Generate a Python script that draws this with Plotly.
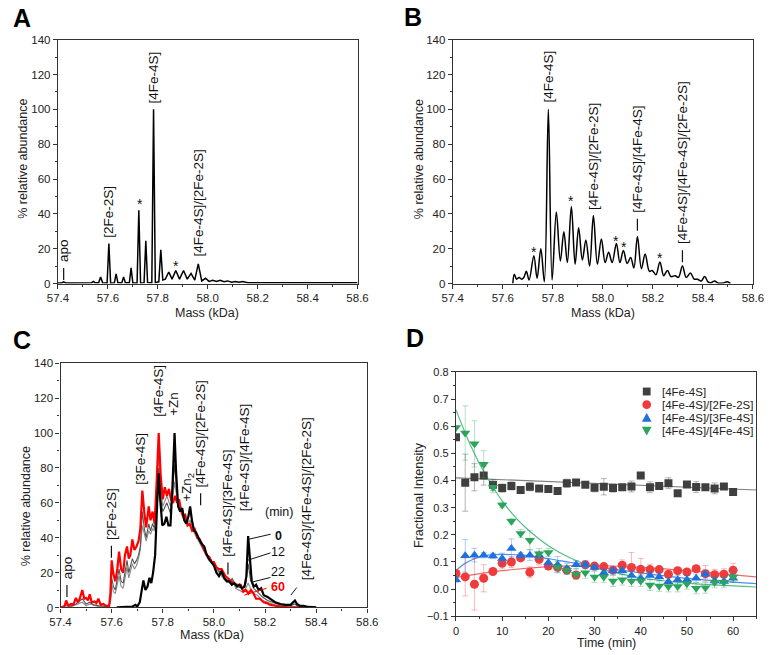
import plotly.graph_objects as go

W, H = 774, 655
FONT = "Liberation Sans, Arial, sans-serif"

# ---------------- Panel A spectrum (vertices) ----------------
a_mass = [57.400, 57.415, 57.423, 57.431, 57.460, 57.490, 57.520, 57.535, 57.542, 57.549,
          57.563, 57.571, 57.579, 57.597, 57.604, 57.611, 57.626, 57.633, 57.640, 57.656,
          57.663, 57.670, 57.686, 57.693, 57.700, 57.717, 57.724, 57.731, 57.745, 57.752,
          57.759, 57.776, 57.783, 57.790, 57.804, 57.812, 57.820, 57.830, 57.844, 57.857,
          57.872, 57.887, 57.903, 57.918, 57.933, 57.948, 57.962, 57.976, 57.991, 58.005,
          58.020, 58.035, 58.050, 58.065, 58.080, 58.095, 58.110, 58.125, 58.140, 58.160,
          58.200, 58.300, 58.400, 58.600]
a_abund = [0.3, 0.3, 1.0, 0.3, 0.3, 0.5, 0.3, 0.5, 1.2, 0.4,
           0.4, 3.8, 0.4, 0.3, 23.0, 0.3, 0.4, 5.6, 0.5, 0.4,
           3.8, 0.4, 0.4, 9.0, 0.3, 0.3, 42.0, 0.3, 0.5, 24.6,
           0.5, 0.4, 100.0, 0.5, 1.0, 19.4, 2.0, 2.5, 6.6, 2.5,
           7.5, 2.5, 7.5, 2.5, 5.8, 2.0, 11.3, 1.5, 3.0, 1.2,
           1.8, 1.2, 1.8, 1.0, 1.5, 0.8, 1.2, 0.7, 1.2, 0.5,
           0.5, 0.4, 0.4, 0.4]

# ---------------- Panel B spectrum ----------------
b_mass = [57.640, 57.646, 57.655, 57.665, 57.675, 57.684, 57.694, 57.705, 57.724, 57.737,
          57.752, 57.766, 57.782, 57.797, 57.814, 57.830, 57.844, 57.858, 57.874, 57.889,
          57.903, 57.918, 57.932, 57.947, 57.962, 57.978, 57.994, 58.009, 58.023, 58.037,
          58.054, 58.068, 58.082, 58.097, 58.111, 58.124, 58.138, 58.154, 58.169, 58.186,
          58.197, 58.212, 58.228, 58.243, 58.258, 58.272, 58.289, 58.302, 58.318, 58.333,
          58.350, 58.365, 58.378, 58.393, 58.407, 58.420, 58.432, 58.446, 58.460, 58.480,
          58.497, 58.510]
b_abund = [0.0, 5.3, 2.5, 3.5, 2.5, 3.5, 7.0, 2.0, 16.0, 3.0,
           20.0, 1.0, 100.0, 2.0, 41.0, 13.0, 29.7, 12.0, 44.2, 11.0,
           32.0, 13.5, 25.0, 10.0, 39.0, 11.0, 25.6, 12.0, 18.0, 12.0,
           23.0, 12.0, 19.0, 11.5, 15.0, 9.0, 27.0, 8.5, 17.0, 7.0,
           7.5, 5.0, 12.4, 4.5, 7.5, 4.0, 4.5, 3.5, 10.0, 3.5,
           6.0, 2.5, 2.5, 1.5, 4.0, 1.0, 0.5, 1.5, 0.3, 0.3,
           1.0, 0.0]

# ---------------- Panel C spectra (0, 12, 22, 60 min) ----------------
c60_mass = [57.400, 57.415, 57.422, 57.430, 57.441, 57.450, 57.460, 57.468, 57.474, 57.485,
            57.493, 57.500, 57.507, 57.514, 57.522, 57.533, 57.540, 57.548, 57.557, 57.567,
            57.577, 57.590, 57.595, 57.600, 57.607, 57.614, 57.622, 57.629, 57.637, 57.645,
            57.652, 57.660, 57.667, 57.673, 57.681, 57.689, 57.697, 57.705, 57.712, 57.720,
            57.728, 57.735, 57.745, 57.752, 57.760, 57.768, 57.776, 57.784, 57.792, 57.800,
            57.808, 57.816, 57.824, 57.832, 57.840, 57.848, 57.856, 57.864, 57.872, 57.880,
            57.888, 57.897, 57.905, 57.915, 57.925, 57.935, 57.945, 57.955, 57.962, 57.972,
            57.982, 57.992, 58.000, 58.010, 58.020, 58.030, 58.045, 58.060, 58.075, 58.090,
            58.105, 58.115, 58.125, 58.135, 58.145, 58.155, 58.165, 58.180, 58.195, 58.207,
            58.220, 58.240, 58.260, 58.300, 58.400]
c60_abund = [0.0, 0.5, 4.0, 1.0, 2.0, 1.5, 5.5, 3.0, 4.5, 10.0,
             5.0, 5.5, 4.0, 7.5, 3.0, 3.5, 2.5, 5.0, 1.5, 2.0,
             1.0, 1.0, 8.0, 27.0, 19.0, 15.0, 22.0, 32.0, 22.0, 20.0,
             30.0, 35.0, 28.0, 30.0, 39.0, 33.0, 35.0, 38.0, 45.0, 67.0,
             54.0, 46.0, 58.0, 50.0, 55.0, 48.0, 72.0, 100.0, 75.0, 62.0,
             69.0, 64.0, 68.0, 62.0, 60.0, 64.0, 60.0, 62.0, 55.0, 52.0,
             53.0, 47.0, 48.0, 44.0, 45.0, 40.0, 39.0, 35.0, 33.0, 30.0,
             29.0, 26.0, 26.0, 23.0, 22.0, 22.0, 18.0, 16.0, 14.0, 13.0,
             13.0, 9.0, 10.0, 8.0, 10.0, 8.0, 5.0, 5.0, 3.0, 2.5,
             1.5, 1.0, 0.5, 0.0, 0.0]

c0_mass = [57.620, 57.660, 57.680, 57.693, 57.700, 57.710, 57.718, 57.724, 57.732, 57.740,
           57.748, 57.755, 57.762, 57.770, 57.778, 57.784, 57.790, 57.798, 57.806, 57.814,
           57.822, 57.830, 57.838, 57.846, 57.852, 57.860, 57.868, 57.876, 57.884, 57.892,
           57.900, 57.907, 57.914, 57.922, 57.930, 57.938, 57.946, 57.955, 57.962, 57.970,
           57.980, 57.990, 58.000, 58.010, 58.020, 58.030, 58.040, 58.050, 58.060, 58.070,
           58.080, 58.090, 58.100, 58.110, 58.120, 58.127, 58.134, 58.141, 58.148, 58.156,
           58.165, 58.175, 58.185, 58.195, 58.210, 58.225, 58.240, 58.260, 58.280, 58.300,
           58.310, 58.317, 58.325, 58.335, 58.350, 58.370, 58.400]
c0_abund = [0.0, 0.5, 0.5, 1.5, 0.5, 3.0, 12.0, 15.5, 10.0, 12.0,
            17.0, 14.0, 20.0, 30.0, 60.0, 77.0, 62.0, 47.0, 48.0, 52.0,
            47.0, 47.0, 70.0, 100.0, 78.0, 58.0, 55.0, 57.0, 50.0, 48.0,
            52.0, 58.0, 50.0, 44.0, 43.0, 40.0, 38.0, 36.0, 35.0, 31.0,
            28.0, 26.0, 24.0, 20.0, 18.0, 21.0, 17.0, 15.0, 15.0, 13.0,
            14.0, 12.0, 13.0, 11.0, 12.0, 18.0, 41.0, 28.0, 15.0, 12.0,
            13.0, 10.0, 11.0, 7.0, 6.0, 4.5, 3.0, 2.0, 1.5, 1.5,
            3.0, 4.0, 2.0, 1.0, 1.0, 0.3, 0.0]

c12_mass = [57.400, 57.420, 57.440, 57.460, 57.485, 57.500, 57.514, 57.530, 57.550, 57.590,
            57.596, 57.600, 57.607, 57.614, 57.629, 57.637, 57.645, 57.660, 57.667, 57.681,
            57.689, 57.697, 57.705, 57.712, 57.720, 57.728, 57.735, 57.745, 57.752, 57.760,
            57.768, 57.776, 57.784, 57.792, 57.800, 57.816, 57.830, 57.838, 57.846, 57.860,
            57.876, 57.892, 57.907, 57.922, 57.940, 57.962, 57.980, 58.000, 58.020, 58.040,
            58.060, 58.072, 58.090, 58.110, 58.125, 58.134, 58.143, 58.155, 58.170, 58.190,
            58.210, 58.230, 58.260, 58.300, 58.317, 58.330, 58.360]
c12_abund = [0.0, 1.5, 0.8, 2.0, 5.0, 2.0, 3.0, 1.5, 1.0, 0.5,
             5.0, 17.0, 12.0, 10.0, 22.0, 15.0, 14.0, 27.0, 20.0, 28.0,
             25.0, 27.0, 30.0, 35.0, 55.0, 45.0, 40.0, 48.0, 44.0, 48.0,
             45.0, 60.0, 80.0, 62.0, 55.0, 60.0, 54.0, 66.0, 82.0, 58.0,
             56.0, 50.0, 55.0, 45.0, 40.0, 34.0, 28.0, 25.0, 21.0, 17.0,
             15.0, 16.0, 12.0, 11.0, 14.0, 25.0, 16.0, 11.0, 9.0, 6.0,
             4.0, 3.0, 1.5, 1.0, 2.0, 0.5, 0.0]

c22_mass = [57.400, 57.420, 57.440, 57.460, 57.485, 57.500, 57.514, 57.550, 57.590, 57.596,
            57.600, 57.607, 57.614, 57.629, 57.637, 57.645, 57.660, 57.667, 57.681, 57.689,
            57.697, 57.705, 57.712, 57.720, 57.728, 57.735, 57.745, 57.752, 57.760, 57.768,
            57.776, 57.784, 57.792, 57.800, 57.816, 57.830, 57.838, 57.846, 57.860, 57.876,
            57.892, 57.907, 57.922, 57.940, 57.962, 57.980, 58.000, 58.020, 58.040, 58.060,
            58.072, 58.085, 58.110, 58.125, 58.134, 58.143, 58.155, 58.170, 58.190, 58.210,
            58.240, 58.270, 58.300, 58.340]
c22_abund = [0.0, 1.0, 0.5, 1.5, 3.0, 1.0, 2.0, 0.5, 0.5, 4.0,
             13.0, 9.0, 8.0, 18.0, 12.0, 11.0, 23.0, 17.0, 25.0, 22.0,
             24.0, 28.0, 33.0, 47.0, 42.0, 38.0, 44.0, 42.0, 45.0, 44.0,
             65.0, 88.0, 68.0, 58.0, 64.0, 58.0, 62.0, 72.0, 58.0, 54.0,
             48.0, 50.0, 43.0, 38.0, 32.0, 27.0, 24.0, 20.0, 16.0, 14.0,
             17.0, 11.0, 9.0, 11.0, 14.0, 11.0, 8.0, 7.0, 4.0, 3.0,
             1.5, 0.5, 0.3, 0.0]

# ---------------- Panel D time course ----------------
time_min = [0, 2, 4, 6, 8, 10, 12, 14, 16, 18, 20, 22, 24, 26, 28, 30,
            32, 34, 36, 38, 40, 42, 44, 46, 48, 50, 52, 54, 56, 58, 60]
fe4s4 = [0.559, 0.392, 0.412, 0.418, 0.384, 0.372, 0.380, 0.365, 0.377, 0.371, 0.369, 0.361,
         0.390, 0.393, 0.384, 0.373, 0.377, 0.372, 0.375, 0.378, 0.418, 0.375, 0.380, 0.390,
         0.353, 0.385, 0.376, 0.375, 0.371, 0.378, 0.358]
fe4s4_err = [0.0, 0.105, 0.05, 0.035, 0.02, 0.015, 0.015, 0.005, 0.015, 0.005, 0.01, 0.005,
             0.015, 0.01, 0.005, 0.015, 0.03, 0.015, 0.01, 0.02, 0.01, 0.02, 0.01, 0.02,
             0.005, 0.01, 0.02, 0.01, 0.02, 0.01, 0.005]
fe4s4_fe2s2 = [0.058, 0.045, 0.018, 0.040, 0.065, 0.095, 0.100, 0.115, 0.062, 0.110, 0.085,
               0.080, 0.070, 0.052, 0.090, 0.085, 0.083, 0.070, 0.088, 0.080, 0.073, 0.072,
               0.072, 0.055, 0.068, 0.063, 0.075, 0.057, 0.053, 0.055, 0.070]
fe4s4_fe2s2_err = [0.01, 0.07, 0.095, 0.05, 0.01, 0.02, 0.02, 0.01, 0.02, 0.02, 0.01, 0.01,
                   0.01, 0.005, 0.01, 0.01, 0.01, 0.01, 0.02, 0.055, 0.04, 0.02, 0.01, 0.01,
                   0.01, 0.01, 0.01, 0.03, 0.02, 0.02, 0.025]
fe4s4_fe3s4 = [0.035, 0.123, 0.125, 0.125, 0.122, 0.113, 0.150, 0.125, 0.125, 0.125, 0.097,
               0.090, 0.075, 0.090, 0.090, 0.080, 0.060, 0.068, 0.068, 0.050, 0.040, 0.050,
               0.045, 0.027, 0.035, 0.035, 0.040, 0.055, 0.030, 0.028, 0.040]
fe4s4_fe3s4_err = [0.01, 0.06, 0.025, 0.01, 0.01, 0.02, 0.035, 0.01, 0.02, 0.015, 0.015, 0.03,
                   0.02, 0.015, 0.015, 0.01, 0.015, 0.015, 0.015, 0.015, 0.015, 0.015, 0.015,
                   0.015, 0.015, 0.015, 0.015, 0.015, 0.015, 0.015, 0.015]
fe4s4_fe4s4 = [0.595, 0.575, 0.535, 0.460, 0.375, 0.310, 0.250, 0.205, 0.180, 0.130, 0.135,
               0.082, 0.070, 0.055, 0.060, 0.045, 0.045, 0.030, 0.035, 0.030, 0.030, 0.015,
               0.012, 0.010, 0.010, 0.020, 0.003, 0.005, 0.025, 0.025, 0.045]
fe4s4_fe4s4_err = [0.0, 0.1, 0.085, 0.05, 0.02, 0.01, 0.01, 0.015, 0.035, 0.02, 0.015, 0.02,
                   0.015, 0.02, 0.02, 0.02, 0.02, 0.02, 0.02, 0.02, 0.02, 0.02, 0.02, 0.02,
                   0.02, 0.02, 0.02, 0.02, 0.02, 0.02, 0.02]

# fitted curves
fit_gray_t = [0, 65]
fit_gray_v = [0.41, 0.365]
fit_red_t = [0, 10, 20, 30, 40, 50, 65]
fit_red_v = [0.043, 0.068, 0.083, 0.087, 0.080, 0.068, 0.045]
fit_blue_t = [0, 2, 4, 6, 8, 10, 15, 20, 25, 30, 40, 50, 65]
fit_blue_v = [0.068, 0.095, 0.112, 0.122, 0.127, 0.128, 0.124, 0.112, 0.098, 0.085, 0.060, 0.040, 0.020]
fit_green_t = [0, 2.5, 5, 7.5, 10, 12.5, 15, 20, 25, 30, 40, 50, 65]
fit_green_v = [0.66, 0.555, 0.465, 0.39, 0.325, 0.272, 0.228, 0.16, 0.113, 0.08, 0.042, 0.022, 0.008]

series_names = ["[4Fe-4S]", "[4Fe-4S]/[2Fe-2S]", "[4Fe-4S]/[3Fe-4S]", "[4Fe-4S]/[4Fe-4S]"]
mass_ticks = [57.4, 57.6, 57.8, 58.0, 58.2, 58.4, 58.6]

# ---------------- helpers ----------------
def px(x):
    return x / W

def py(y):
    return 1 - y / H

AX = "#333333"

def axis_style(**kw):
    d = dict(showline=True, linecolor=AX, linewidth=1.3, mirror=True,
             ticks="outside", ticklen=4, tickwidth=1, tickcolor=AX,
             showgrid=False, zeroline=False,
             tickfont=dict(family=FONT, size=11.5, color="#222"),
             minor=dict(ticks="outside", ticklen=2, tickwidth=1, tickcolor=AX))
    d.update(kw)
    return d

fig = go.Figure()

# A
fig.add_trace(go.Scatter(x=a_mass, y=a_abund, mode="lines", line=dict(color="black", width=1.5),
                         xaxis="x", yaxis="y", showlegend=False))
# B
fig.add_trace(go.Scatter(x=b_mass, y=b_abund, mode="lines", line=dict(color="black", width=1.5, shape="spline", smoothing=1.0),
                         xaxis="x2", yaxis="y2", showlegend=False))
# C
fig.add_trace(go.Scatter(x=c22_mass, y=c22_abund, mode="lines", line=dict(color="#8a8a8a", width=1.1),
                         xaxis="x3", yaxis="y3", showlegend=False))
fig.add_trace(go.Scatter(x=c12_mass, y=c12_abund, mode="lines", line=dict(color="#555555", width=1.1),
                         xaxis="x3", yaxis="y3", showlegend=False))
fig.add_trace(go.Scatter(x=c60_mass, y=c60_abund, mode="lines", line=dict(color="#ff0000", width=2.2),
                         xaxis="x3", yaxis="y3", showlegend=False))
fig.add_trace(go.Scatter(x=c0_mass, y=c0_abund, mode="lines", line=dict(color="black", width=2.2),
                         xaxis="x3", yaxis="y3", showlegend=False))

# D
cols = ["#3f3f3f", "#ef3b3b", "#1f6fdf", "#2ba45c"]
fitcols = ["#808080", "#f06a6a", "#4a8ee8", "#55bd84"]
errcols = ["rgba(90,90,90,0.45)", "rgba(239,59,59,0.35)", "rgba(31,111,223,0.35)", "rgba(43,164,92,0.35)"]
symbols = ["square", "circle", "triangle-up", "triangle-down"]
sizes = [8, 9, 9, 9]
fits = [(fit_gray_t, fit_gray_v), (fit_red_t, fit_red_v), (fit_blue_t, fit_blue_v), (fit_green_t, fit_green_v)]
vals = [fe4s4, fe4s4_fe2s2, fe4s4_fe3s4, fe4s4_fe4s4]
errs = [fe4s4_err, fe4s4_fe2s2_err, fe4s4_fe3s4_err, fe4s4_fe4s4_err]
for i in range(4):
    fig.add_trace(go.Scatter(x=fits[i][0], y=fits[i][1], mode="lines",
                             line=dict(color=fitcols[i], width=1.2, shape="spline"),
                             xaxis="x4", yaxis="y4", showlegend=False))
for i in range(4):
    fig.add_trace(go.Scatter(x=time_min, y=vals[i], mode="markers", name=series_names[i],
                             marker=dict(symbol=symbols[i], size=sizes[i], color=cols[i]),
                             error_y=dict(type="data", array=errs[i], color=errcols[i], thickness=1, width=3),
                             xaxis="x4", yaxis="y4", showlegend=False))

layout = dict(
    width=W, height=H, margin=dict(l=0, r=0, t=0, b=0),
    paper_bgcolor="white", plot_bgcolor="white",
    font=dict(family=FONT, color="#222"),
    xaxis=axis_style(domain=[px(48.3), px(356.7)], range=[57.4, 58.6], tickvals=mass_ticks,
                     tickformat=".1f", minor=dict(ticks="outside", ticklen=2, tickcolor=AX, dtick=0.1, tick0=57.4), anchor="y"),
    yaxis=axis_style(domain=[py(282.7), py(34.3)], range=[0, 140], dtick=20,
                     minor=dict(ticks="outside", ticklen=2, tickcolor=AX, dtick=10), anchor="x"),
    xaxis2=axis_style(domain=[px(454.7), px(763.7)], range=[57.4, 58.6], tickvals=mass_ticks,
                      tickformat=".1f", minor=dict(ticks="outside", ticklen=2, tickcolor=AX, dtick=0.1, tick0=57.4), anchor="y2"),
    yaxis2=axis_style(domain=[py(282.7), py(34.3)], range=[0, 140], dtick=20,
                      minor=dict(ticks="outside", ticklen=2, tickcolor=AX, dtick=10), anchor="x2"),
    xaxis3=axis_style(domain=[px(51), px(366.7)], range=[57.4, 58.6], tickvals=mass_ticks,
                      tickformat=".1f", minor=dict(ticks="outside", ticklen=2, tickcolor=AX, dtick=0.1, tick0=57.4), anchor="y3"),
    yaxis3=axis_style(domain=[py(612.7), py(364)], range=[0, 140], dtick=20,
                      minor=dict(ticks="outside", ticklen=2, tickcolor=AX, dtick=10), anchor="x3"),
    xaxis4=axis_style(domain=[px(458), px(767)], range=[0, 65], dtick=10,
                      tickfont=dict(family=FONT, size=11, color="#222"),
                      minor=dict(ticks="outside", ticklen=2, tickcolor=AX, dtick=5), anchor="y4"),
    yaxis4=axis_style(domain=[py(621.7), py(372.7)], range=[-0.1, 0.8], dtick=0.1, tickformat=".1f",
                      tickfont=dict(family=FONT, size=11, color="#222"),
                      minor=dict(ticks="outside", ticklen=2, tickcolor=AX, dtick=0.05), anchor="x4"),
)
fig.update_layout(**layout)

ann = []
shapes = []

def paper_text(x, y, text, size=12.5, angle=0, bold=False, color="#222", xanchor="center", yanchor="middle"):
    t = f"<b>{text}</b>" if bold else text
    ann.append(dict(xref="paper", yref="paper", x=px(x), y=py(y), text=t, showarrow=False,
                    textangle=angle, xanchor=xanchor, yanchor=yanchor,
                    font=dict(family=FONT, size=size, color=color)))

# panel letters
for lab, x, y in [("A", 11, 12), ("B", 414, 11), ("C", 11, 340), ("D", 416, 338)]:
    paper_text(x, y, lab, size=25, bold=True, color="black")

# axis titles
paper_text(202, 313, "Mass (kDa)")
paper_text(609, 313, "Mass (kDa)")
paper_text(207, 641, "Mass (kDa)")
paper_text(613, 649, "Time (min)")
paper_text(13, 156, "% relative abundance", angle=-90)
paper_text(420, 156, "% relative abundance", angle=-90)
paper_text(15, 510, "% relative abundance", angle=-90)
paper_text(420, 498, "Fractional Intensity", angle=-90)

LS = 13.5

def vlabel(ax, x, y, text, size=LS, dash=False):
    yref = ax.replace("x", "y")
    shift = 0
    if dash:
        # short leader line below the rotated label (pixel sized, anchored at the label base)
        shapes.append(dict(type="line", xref=ax, yref=yref, x0=x, x1=x,
                           ysizemode="pixel", yanchor=y, y0=1, y1=13,
                           line=dict(color="#111", width=1.2)))
        shift = 17
    ann.append(dict(xref=ax, yref=yref, x=x, y=y, text=text, showarrow=False,
                    textangle=-90, xanchor="center", yanchor="bottom", yshift=shift,
                    font=dict(family=FONT, size=size, color="#111")))

def star(ax, x, y):
    ann.append(dict(xref=ax, yref=ax.replace("x", "y"), x=x, y=y, text="*", showarrow=False,
                    xanchor="center", yanchor="middle", yshift=-2,
                    font=dict(family=FONT, size=14, color="#111")))

# A labels
vlabel("x", 57.423, 1.5, "apo", dash=True)
vlabel("x", 57.605, 25.2, "[2Fe-2S]")
vlabel("x", 57.783, 102, "[4Fe-4S]")
vlabel("x", 57.964, 14.5, "[4Fe-4S]/[2Fe-2S]")
star("x", 57.728, 47)
star("x", 57.874, 11)

# B labels
vlabel("x2", 57.782, 103, "[4Fe-4S]")
vlabel("x2", 57.962, 41, "[4Fe-4S]/[2Fe-2S]")
vlabel("x2", 58.138, 29.7, "[4Fe-4S]/[4Fe-4S]", dash=True)
vlabel("x2", 58.318, 11.7, "[4Fe-4S]/[4Fe-4S]/[2Fe-2S]", dash=True)
for sx, sy in [(57.723, 19), (57.874, 48.3), (58.054, 25.8), (58.083, 22.4), (58.228, 15.6)]:
    star("x2", sx, sy)

# C labels
vlabel("x3", 57.425, 5.5, "apo", dash=True)
vlabel("x3", 57.599, 28, "[2Fe-2S]", dash=True)
vlabel("x3", 57.713, 69, "[3Fe-4S]")
vlabel("x3", 57.783, 108.5, "[4Fe-4S]")
vlabel("x3", 57.842, 108.5, "+Zn")
vlabel("x3", 57.897, 59.5, "+Zn<sub>2</sub>")
vlabel("x3", 57.948, 58, "[4Fe-4S]/[2Fe-2S]", dash=True)
vlabel("x3", 58.055, 18.4, "[4Fe-4S]/[3Fe-4S]", dash=True)
vlabel("x3", 58.119, 54, "[4Fe-4S]/[4Fe-4S]")
vlabel("x3", 58.362, 14.5, "[4Fe-4S]/[4Fe-4S]/[2Fe-2S]")

def ctext(x, y, text, color="#111", bold=False):
    t = f"<b>{text}</b>" if bold else text
    ann.append(dict(xref="x3", yref="y3", x=x, y=y, text=t, showarrow=False,
                    xanchor="center", yanchor="middle", borderpad=0,
                    font=dict(family=FONT, size=12.5, color=color)))

ctext(58.255, 55, "(min)")
ctext(58.252, 40.8, "0", bold=True)
ctext(58.252, 31.8, "12")
ctext(58.252, 20.5, "22")
ctext(58.252, 11.8, "60", color="#ff0000", bold=True)

for (x0, y0, x1, y1, c) in [(58.138, 39.2, 58.222, 42, "#111"), (58.126, 26.8, 58.221, 31.3, "#111"),
                            (58.145, 14.4, 58.221, 17.2, "#111"), (58.119, 7.1, 58.206, 11, "#ff0000"),
                            (58.301, 7.1, 58.324, 11.4, "#111")]:
    shapes.append(dict(type="line", xref="x3", yref="y3", x0=x0, y0=y0, x1=x1, y1=y1,
                       line=dict(color=c, width=1)))

# D legend (manual)
leg_y = [392.7, 406, 419.5, 432.5]
mx = 654.3
for i in range(4):
    yy = leg_y[i]
    paper_text(668.3, yy, series_names[i], size=11.5, xanchor="left")
    r = 4.0
    if i == 0:
        shapes.append(dict(type="rect", xref="paper", yref="paper",
                           x0=px(mx - r), x1=px(mx + r), y0=py(yy + r), y1=py(yy - r),
                           fillcolor=cols[0], line=dict(width=0)))
    elif i == 1:
        shapes.append(dict(type="circle", xref="paper", yref="paper",
                           x0=px(mx - 4.5), x1=px(mx + 4.5), y0=py(yy + 4.5), y1=py(yy - 4.5),
                           fillcolor=cols[1], line=dict(width=0)))
    elif i == 2:
        path = f"M {px(mx-5)} {py(yy+4)} L {px(mx+5)} {py(yy+4)} L {px(mx)} {py(yy-5)} Z"
        shapes.append(dict(type="path", xref="paper", yref="paper", path=path,
                           fillcolor=cols[2], line=dict(width=0)))
    else:
        path = f"M {px(mx-5)} {py(yy-4)} L {px(mx+5)} {py(yy-4)} L {px(mx)} {py(yy+5)} Z"
        shapes.append(dict(type="path", xref="paper", yref="paper", path=path,
                           fillcolor=cols[3], line=dict(width=0)))

fig.update_layout(annotations=ann, shapes=shapes)
fig.write_html("out.html")
